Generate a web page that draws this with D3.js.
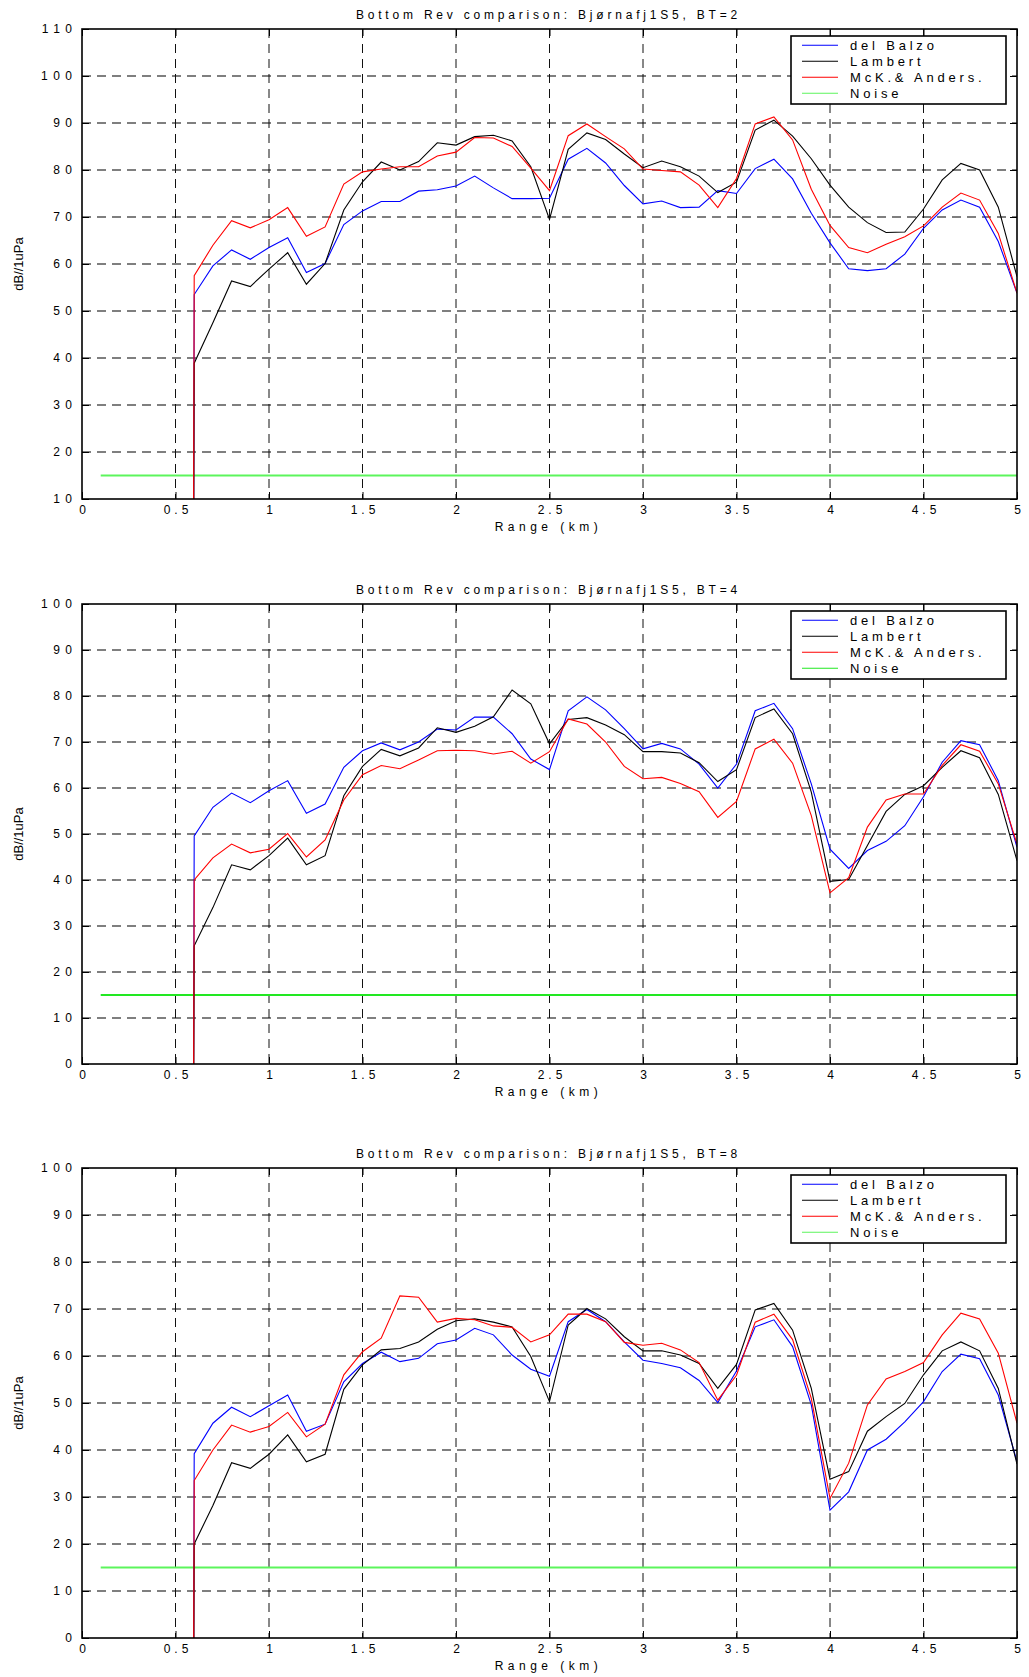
<!DOCTYPE html>
<html>
<head>
<meta charset="utf-8">
<script src="https://cdn.jsdelivr.net/npm/d3@7"></script>
<style>
body { margin: 0; background: #fff; }
text { font-family: Arial, "Liberation Sans", sans-serif; fill: #000; }
</style>
</head>
<body>
<div id="chart"></div>
<script>
// range samples (km); the first one is off-scale (drops below the axis)
var rangeKm = [0.59, 0.6, 0.7, 0.8, 0.9, 1.0, 1.1, 1.2, 1.3, 1.4, 1.5, 1.6, 1.7, 1.8, 1.9, 2.0,
  2.1, 2.2, 2.3, 2.4, 2.5, 2.6, 2.7, 2.8, 2.9, 3.0, 3.1, 3.2, 3.3, 3.4, 3.5, 3.6, 3.7, 3.8,
  3.9, 4.0, 4.1, 4.2, 4.3, 4.4, 4.5, 4.6, 4.7, 4.8, 4.9, 5.0];

// BT = 2
var balzoBT2 = [-100, 53.5, 59.6, 63.0, 61.0, 63.5, 65.6, 58.2, 60.1, 68.4, 71.3, 73.3, 73.3, 75.5, 75.8, 76.6, 78.7, 76.2, 73.9,
  73.9, 74.0, 82.3, 84.6, 81.5, 76.7, 72.8, 73.4, 72.0, 72.1, 75.6, 75.0, 80.3, 82.3, 78.1, 70.8, 64.5, 59.0, 58.6, 59.0, 62.1, 67.6, 71.5, 73.6, 72.1, 64.8, 53.8];
var lambertBT2 = [-100, 38.9, 47.5, 56.4, 55.2, 58.9, 62.4, 55.7, 60.1, 71.5, 77.5, 81.7, 80.0, 81.8, 85.8, 85.3, 87.1, 87.4, 86.2,
  80.7, 69.5, 84.4, 87.9, 86.5, 83.4, 80.5, 81.9, 80.7, 78.7, 75.2, 77.4, 88.5, 90.6, 87.2, 82.4, 76.8, 72.1, 68.8, 66.7, 66.8, 71.7, 77.9, 81.4, 80.0, 72.1, 57.3];
var mckBT2 = [-100, 57.5, 64.0, 69.2, 67.7, 69.4, 72.0, 65.9, 67.9, 77.0, 79.6, 80.2, 80.7, 80.7, 83.0, 83.8, 86.9, 86.8, 85.0,
  80.4, 75.6, 87.3, 89.8, 87.1, 84.5, 80.2, 79.9, 79.6, 76.8, 72.0, 78.2, 89.8, 91.3, 86.4, 75.9, 68.2, 63.5, 62.4, 64.2, 65.8, 68.1, 72.1, 75.1, 73.6, 66.5, 53.8];

// BT = 4
var balzoBT4 = [-100, 49.6, 55.8, 58.9, 56.8, 59.4, 61.6, 54.5, 56.5, 64.5, 68.1, 69.8, 68.3, 70.0, 72.8, 72.6, 75.4, 75.4, 71.8,
  66.3, 64.0, 76.8, 79.8, 77.0, 72.9, 68.5, 69.7, 68.5, 65.2, 60.0, 65.2, 76.8, 78.4, 72.9, 60.9, 46.7, 42.5, 46.4, 48.4, 51.8, 58.1, 65.6, 70.3, 69.4, 61.6, 47.1];
var lambertBT4 = [-100, 25.7, 34.0, 43.3, 42.2, 45.3, 49.1, 43.3, 45.3, 58.3, 64.7, 68.4, 67.0, 68.7, 73.1, 72.1, 73.4, 75.5, 81.3,
  78.3, 69.6, 74.9, 75.3, 73.7, 71.6, 67.9, 67.9, 67.6, 65.5, 61.4, 64.0, 75.3, 77.2, 71.8, 59.1, 39.7, 40.1, 47.5, 54.9, 58.6, 60.5, 64.5, 68.1, 66.6, 58.6, 44.2];
var mckBT4 = [-100, 40.0, 44.8, 47.8, 45.9, 46.7, 50.1, 45.0, 48.7, 57.4, 62.9, 64.9, 64.2, 66.1, 68.1, 68.2, 68.1, 67.4, 68.0,
  65.4, 67.9, 75.0, 73.9, 70.0, 64.7, 62.0, 62.3, 61.0, 59.2, 53.6, 57.1, 68.5, 70.6, 65.4, 54.0, 37.2, 40.5, 51.5, 57.4, 58.7, 58.7, 64.9, 69.4, 68.0, 60.9, 47.8];

// BT = 8
var balzoBT8 = [-100, 39.2, 45.7, 49.1, 47.1, 49.4, 51.7, 44.0, 45.5, 54.5, 58.4, 60.8, 58.8, 59.5, 62.6, 63.4, 65.9, 64.5, 60.2,
  57.2, 55.7, 67.3, 69.9, 67.3, 63.0, 59.1, 58.4, 57.5, 54.8, 50.1, 56.8, 66.2, 67.7, 62.0, 49.6, 27.2, 31.1, 40.0, 42.3, 46.0, 50.3, 56.7, 60.4, 59.4, 51.7, 37.5];
var lambertBT8 = [-100, 20.0, 28.2, 37.3, 36.1, 39.1, 43.2, 37.5, 39.1, 52.9, 58.1, 61.3, 61.6, 63.0, 65.7, 67.5, 67.9, 67.2, 66.2,
  59.9, 50.3, 66.6, 70.1, 67.9, 64.1, 61.1, 61.1, 60.2, 58.4, 53.1, 58.2, 69.8, 71.2, 65.5, 53.1, 33.8, 35.4, 44.0, 47.1, 49.9, 56.0, 61.1, 63.0, 61.1, 53.1, 37.0];
var mckBT8 = [-100, 33.5, 40.0, 45.3, 43.8, 45.0, 48.0, 42.8, 45.5, 56.0, 60.9, 63.8, 72.8, 72.5, 67.2, 68.0, 67.7, 66.4, 66.1,
  63.0, 64.5, 68.9, 68.9, 67.3, 62.9, 62.3, 62.7, 61.3, 58.6, 50.6, 55.9, 67.2, 68.9, 63.5, 51.0, 29.7, 37.2, 49.6, 55.1, 56.7, 58.6, 64.5, 69.1, 67.9, 60.6, 45.7];

// noise floor
var noiseRange = [0.1, 5.0];
var noiseLevel = [15, 15];

var seriesNames = ["del Balzo", "Lambert", "McK.& Anders.", "Noise"];
var xTicks = [0, 0.5, 1, 1.5, 2, 2.5, 3, 3.5, 4, 4.5, 5];
var xTickLabels = ["0", "0.5", "1", "1.5", "2", "2.5", "3", "3.5", "4", "4.5", "5"];
var yTicksBT2 = [10, 20, 30, 40, 50, 60, 70, 80, 90, 100, 110];
var yTicks = [0, 10, 20, 30, 40, 50, 60, 70, 80, 90, 100];
var titles = ["Bottom Rev comparison: Bjørnafj1S5, BT=2",
              "Bottom Rev comparison: Bjørnafj1S5, BT=4",
              "Bottom Rev comparison: Bjørnafj1S5, BT=8"];

// layout of the three stacked axes
var panels = [
  {title: titles[0], ticks: yTicksBT2, top: 29,   bottom: 499,  series: [balzoBT2, lambertBT2, mckBT2], noise: "#5cf55c"},
  {title: titles[1], ticks: yTicks,    top: 604,  bottom: 1064, series: [balzoBT4, lambertBT4, mckBT4], noise: "#22e822"},
  {title: titles[2], ticks: yTicks,    top: 1168, bottom: 1638, series: [balzoBT8, lambertBT8, mckBT8], noise: "#5cf55c"}
];
var lineColors = ["#0000ff", "#000000", "#ff0000"];

var left = 82, right = 1017;
var textCenter = 548.5; // titles / x label sit a bit left of the axes centre

const svg = d3.select("#chart")
  .append("svg")
  .attr("width", 1029)
  .attr("height", 1677);

panels.forEach(function (p, k) {
  var x = d3.scaleLinear().domain([0, 5]).range([left, right]);
  var y = d3.scaleLinear().domain([p.ticks[0], p.ticks[p.ticks.length - 1]]).range([p.bottom, p.top]);
  var g = svg.append("g");

  g.append("clipPath").attr("id", "clip" + k)
    .append("rect")
    .attr("x", left).attr("y", p.top)
    .attr("width", right - left).attr("height", p.bottom - p.top);

  // dashed grid
  g.append("g").selectAll("line").data(p.ticks.slice(1, -1)).enter().append("line")
    .attr("x1", left).attr("x2", right)
    .attr("y1", function (d) { return y(d); })
    .attr("y2", function (d) { return y(d); })
    .attr("stroke", "#555").attr("stroke-width", 1.4)
    .attr("stroke-dasharray", "9,6");
  g.append("g").selectAll("line").data(xTicks.slice(1, -1)).enter().append("line")
    .attr("y1", p.top).attr("y2", p.bottom)
    .attr("x1", function (d) { return x(d); })
    .attr("x2", function (d) { return x(d); })
    .attr("stroke", "#111").attr("stroke-width", 1)
    .attr("stroke-dasharray", "9,6");

  // axes, ticks pointing inward on all four sides
  var ax = g.append("g").attr("transform", "translate(0," + p.bottom + ")")
    .call(d3.axisBottom(x).tickValues(xTicks).tickSize(-7).tickSizeOuter(0).tickPadding(6.3)
      .tickFormat(function (d, i) { return xTickLabels[i]; }));
  ax.selectAll("text").attr("font-size", 12).style("letter-spacing", "4px").attr("dx", 2)
    .attr("font-family", "Arial, 'Liberation Sans', sans-serif");
  var ay = g.append("g").attr("transform", "translate(" + left + ",0)")
    .call(d3.axisLeft(y).tickValues(p.ticks).tickSize(-7).tickSizeOuter(0).tickPadding(4.5)
      .tickFormat(d3.format("d")));
  ay.selectAll("text").attr("font-size", 12).style("letter-spacing", "5.5px")
    .attr("font-family", "Arial, 'Liberation Sans', sans-serif");
  g.append("g").attr("transform", "translate(0," + p.top + ")")
    .call(d3.axisTop(x).tickValues(xTicks).tickSize(-7).tickSizeOuter(0).tickFormat(""));
  g.append("g").attr("transform", "translate(" + right + ",0)")
    .call(d3.axisRight(y).tickValues(p.ticks).tickSize(-7).tickSizeOuter(0).tickFormat(""));
  g.selectAll(".domain").remove();
  g.selectAll(".tick line").attr("stroke", "#000");

  // data lines
  var plot = g.append("g").attr("clip-path", "url(#clip" + k + ")");
  plot.append("path")
    .datum(noiseRange.map(function (r, i) { return [r, noiseLevel[i]]; }))
    .attr("d", d3.line().x(function (d) { return x(d[0]); }).y(function (d) { return y(d[1]); }))
    .attr("fill", "none").attr("stroke", p.noise).attr("stroke-width", 1.8);
  p.series.forEach(function (s, j) {
    plot.append("path")
      .datum(rangeKm.map(function (r, i) { return [r, s[i]]; }))
      .attr("d", d3.line().x(function (d) { return x(d[0]); }).y(function (d) { return y(d[1]); }))
      .attr("fill", "none").attr("stroke", lineColors[j]).attr("stroke-width", 1.1);
  });

  // frame
  g.append("rect")
    .attr("x", left).attr("y", p.top)
    .attr("width", right - left).attr("height", p.bottom - p.top)
    .attr("fill", "none").attr("stroke", "#000").attr("stroke-width", 1.6);

  // texts
  g.append("text")
    .attr("x", textCenter).attr("y", p.top - 10.5)
    .attr("text-anchor", "middle").attr("font-size", 12)
    .style("letter-spacing", "3.8px")
    .text(p.title);
  g.append("text")
    .attr("x", textCenter).attr("y", p.bottom + 32)
    .attr("text-anchor", "middle").attr("font-size", 12)
    .style("letter-spacing", "4.5px")
    .text("Range (km)");
  g.append("text")
    .attr("transform", "translate(23," + (p.top + p.bottom) / 2 + ") rotate(-90)")
    .attr("text-anchor", "middle").attr("font-size", 13)
    .text("dB//1uPa");

  // legend
  var lg = g.append("g").attr("transform", "translate(791," + (p.top + 7) + ")");
  lg.append("rect").attr("width", 215).attr("height", 68)
    .attr("fill", "#fff").attr("stroke", "#000").attr("stroke-width", 1.6);
  seriesNames.forEach(function (name, j) {
    var cy = 9.3 + j * 16;
    lg.append("line").attr("x1", 11).attr("x2", 47).attr("y1", cy).attr("y2", cy)
      .attr("stroke", j < 3 ? lineColors[j] : p.noise).attr("stroke-width", 1.1);
    lg.append("text").attr("x", 59).attr("y", cy + 4.6)
      .attr("font-size", 13).style("letter-spacing", "3.8px")
      .text(name);
  });
});
</script>
</body>
</html>
